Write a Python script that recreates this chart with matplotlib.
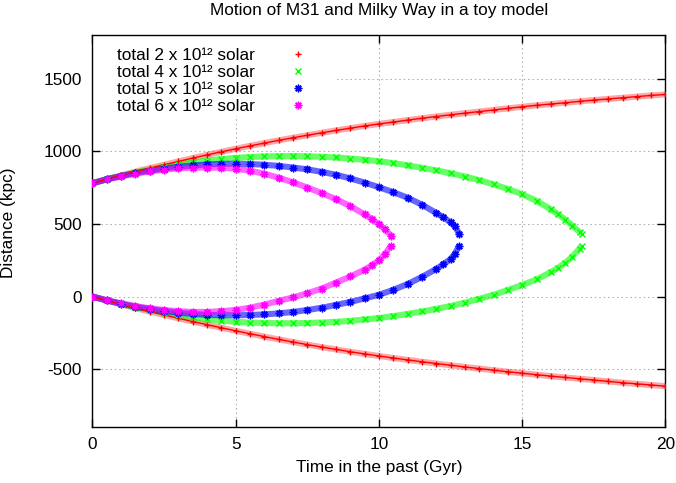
import matplotlib
matplotlib.use('Agg')
import matplotlib.pyplot as plt
from matplotlib.lines import Line2D
from matplotlib.patches import Rectangle

plt.rcParams['font.family'] = ['Liberation Sans', 'DejaVu Sans']
plt.rcParams['axes.unicode_minus'] = False

# values: time in the past (Gyr) and distance (kpc)
# upper branch = M31, lower branch = Milky Way
t_red = [0, 0.5, 1, 1.5, 2, 2.5, 3, 3.5, 4, 4.5, 5, 5.5, 6, 6.5, 7, 7.5, 8, 8.5, 9, 9.5,
         10, 10.5, 11, 11.5, 12, 12.5, 13, 13.5, 14, 14.5, 15, 15.5, 16, 16.5, 17, 17.5,
         18, 18.5, 19, 19.5, 20]
m31_red = [780, 808, 834, 860, 884, 907, 930, 953, 975, 996, 1017, 1037, 1056, 1075, 1093,
           1110, 1127, 1143, 1159, 1174, 1188, 1201, 1214, 1227, 1239, 1251, 1262, 1273,
           1284, 1295, 1306, 1316, 1325, 1334, 1343, 1352, 1360, 1368, 1376, 1384, 1391]
mw_red = [0, -28, -54, -80, -104, -127, -150, -172, -194, -215, -236, -256, -276, -295, -313,
          -331, -348, -364, -380, -395, -409, -423, -436, -449, -461, -473, -485, -496,
          -507, -518, -528, -538, -548, -557, -566, -575, -584, -593, -601, -609, -617]

t_green = [0, 0.5, 1, 1.5, 2, 2.5, 3, 3.5, 4, 4.5, 5, 5.5, 6, 6.5, 7, 7.5, 8, 8.5, 9, 9.5,
           10, 10.5, 11, 11.5, 12, 12.5, 13, 13.5, 14, 14.5, 15, 15.5, 16, 16.25, 16.5,
           16.75, 17, 17.07]
m31_green = [780, 807, 831, 853, 874, 892, 909, 923, 936, 946, 954, 960, 964, 966, 966, 965,
             962, 957, 950, 941, 931, 918, 903, 886, 868, 848, 826, 801, 772, 740, 704, 658,
             600, 566, 530, 488, 444, 432]
mw_green = [0, -27, -51, -73, -93, -111, -127, -141, -156, -166, -174, -179, -182, -184, -184,
            -182, -179, -174, -167, -158, -148, -135, -120, -103, -85, -65, -42, -16, 12, 45,
            80, 118, 168, 198, 232, 275, 330, 351]

t_blue = [0, 0.5, 1, 1.5, 2, 2.5, 3, 3.5, 4, 4.5, 5, 5.5, 6, 6.5, 7, 7.5, 8, 8.5, 9, 9.5,
          10, 10.5, 11, 11.5, 12, 12.25, 12.5, 12.65, 12.8]
m31_blue = [780, 807, 829, 850, 866, 881, 893, 902, 909, 913, 914, 912, 907, 899, 888, 875,
            858, 838, 813, 784, 752, 718, 680, 632, 575, 545, 510, 482, 432]
mw_blue = [0, -27, -49, -70, -86, -100, -111, -120, -126, -129, -129, -127, -123, -116, -106,
           -93, -77, -58, -37, -13, 12, 46, 86, 135, 190, 222, 258, 295, 351]

t_mag = [0, 0.5, 1, 1.5, 2, 2.5, 3, 3.5, 4, 4.5, 5, 5.5, 6, 6.5, 7, 7.5, 8, 8.5, 9, 9.5,
         9.75, 10, 10.2, 10.42]
m31_mag = [780, 806, 827, 846, 861, 873, 882, 887, 888, 886, 880, 866, 845, 818, 786, 750,
           712, 670, 622, 565, 533, 498, 463, 420]
mw_mag = [0, -26, -47, -66, -81, -93, -101, -106, -106, -101, -92, -77, -55, -30, -6, 22, 55,
          96, 138, 185, 215, 250, 290, 351]

labels = ['total 2 x 10\u00b9\u00b2 solar', 'total 4 x 10\u00b9\u00b2 solar',
          'total 5 x 10\u00b9\u00b2 solar', 'total 6 x 10\u00b9\u00b2 solar']

series = [
    (t_red, m31_red, mw_red, '#ff0000', '+', 5.0, 0.35),
    (t_green, m31_green, mw_green, '#00ff00', 'x', 4.2, 0.6),
    (t_blue, m31_blue, mw_blue, '#0000ff', (8, 2, 0), 5.5, 0.6),
    (t_mag, m31_mag, mw_mag, '#ff00ff', (8, 2, 0), 5.5, 0.6),
]

fs = 12.4
fig = plt.figure(figsize=(6.76, 4.83), dpi=100)
ax = fig.add_axes([0.13683, 0.11532, 0.84763, 0.81222])

handles = []
for (t, up, low, col, mk, ms, alpha), lab in zip(series, labels):
    for y in (up, low):
        # wide faint band, then thin core and the point marks
        ax.plot(t, y, color=col, lw=4.4, alpha=alpha, solid_capstyle='butt', zorder=2)
        if mk == '+':
            ax.plot(t, y, color=col, lw=1.0, zorder=3)
        ax.plot(t, y, color=col, ls='none', marker=mk, ms=ms, mew=1.0, zorder=3)
    handles.append(Line2D([], [], color=col, ls='none', marker=mk, ms=ms, mew=1.0, label=lab))

ax.set_xlim(0, 20)
ax.set_ylim(-900, 1800)
ax.set_xticks([0, 5, 10, 15, 20])
ax.set_yticks([-500, 0, 500, 1000, 1500])
ax.tick_params(direction='in', length=6, width=1, top=True, right=True, labelsize=fs)
ax.tick_params(axis='x', pad=7)
ax.tick_params(axis='y', pad=7.5)
ax.grid(True, linestyle=(0, (1.5, 2.5)), color='#b4b4b4', lw=0.8)
for sp in ax.spines.values():
    sp.set_linewidth(1.0)

# key background like gnuplot (covers the grid)
ax.add_patch(Rectangle((0, 0.7935), 0.4267, 0.2065, transform=ax.transAxes,
                       facecolor='white', edgecolor='none', zorder=1.8))
ax.legend(handles=handles, loc='upper left', bbox_to_anchor=(0.0422, 0.967),
          frameon=False, markerfirst=False, borderpad=0, borderaxespad=0,
          handlelength=2.2, handletextpad=1.4, labelspacing=0.12, fontsize=fs, numpoints=1)

ax.set_title('Motion of M31 and Milky Way in a toy model', fontsize=fs, pad=14.4)
ax.set_xlabel('Time in the past (Gyr)', fontsize=fs)
ax.set_ylabel('Distance (kpc)', fontsize=fs)
ax.xaxis.set_label_coords(0.5, -0.083)
ax.yaxis.set_label_coords(-0.1335, 0.521)

fig.savefig('out.png', dpi=100)
